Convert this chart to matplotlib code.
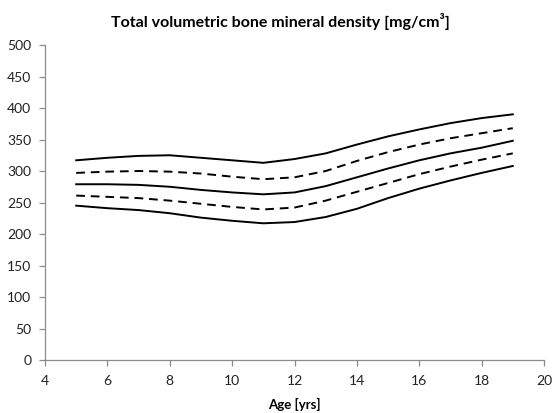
import numpy as np
import matplotlib
matplotlib.use('Agg')
import matplotlib.pyplot as plt

plt.rcParams['font.family'] = ['Lato', 'DejaVu Sans']

# age in years and the five reference curves (mg/cm3)
age = [5, 6, 7, 8, 9, 10, 11, 12, 13, 14, 15, 16, 17, 18, 19]
p_top = [317, 321, 324, 325, 321, 317, 313, 319, 328, 342, 355, 366, 376, 384, 390]
p_upper = [297, 299, 300, 299, 296, 291, 287, 290, 300, 316, 330, 342, 352, 360, 368]
p_mid = [279, 279, 278, 275, 270, 266, 263, 266, 276, 290, 304, 317, 328, 337, 348]
p_lower = [261, 259, 257, 253, 248, 243, 239, 242, 253, 267, 281, 295, 307, 318, 328]
p_bottom = [245, 241, 238, 233, 226, 221, 217, 219, 227, 240, 257, 272, 285, 297, 308]

curves = [(p_top, '-'), (p_upper, '--'), (p_mid, '-'), (p_lower, '--'), (p_bottom, '-')]

fig = plt.figure(figsize=(5.53, 4.13), dpi=100)
ax = fig.add_axes([0.0814, 0.1283, 0.9023, 0.7627])

for vals, ls in curves:
    line, = ax.plot(age, vals, color='black', linewidth=1.4, linestyle=ls,
                    solid_joinstyle='round')
    if ls == '--':
        line.set_dashes((4.5, 3))

ax.set_xlim(4, 20)
ax.set_ylim(0, 500)
ax.set_xticks(np.arange(4, 21, 2))
ax.set_yticks(np.arange(0, 501, 50))

for s in ['top', 'right']:
    ax.spines[s].set_visible(False)
for s in ['left', 'bottom']:
    ax.spines[s].set_color('#8c8c8c')
    ax.spines[s].set_linewidth(0.9)
ax.tick_params(colors='#8c8c8c', labelcolor='#222222', length=4, width=0.9,
               labelsize=10)
ax.tick_params(axis='x', pad=7)
ax.tick_params(axis='y', pad=6)

fig.text(0.507, 0.948, 'Total volumetric bone mineral density [mg/cm\u00b3]',
         ha='center', va='center', fontsize=11.5, fontweight='bold')
ax.set_xlabel('Age [yrs]', fontsize=9.5, fontweight='bold', labelpad=8)

fig.savefig('out.png', dpi=100)
